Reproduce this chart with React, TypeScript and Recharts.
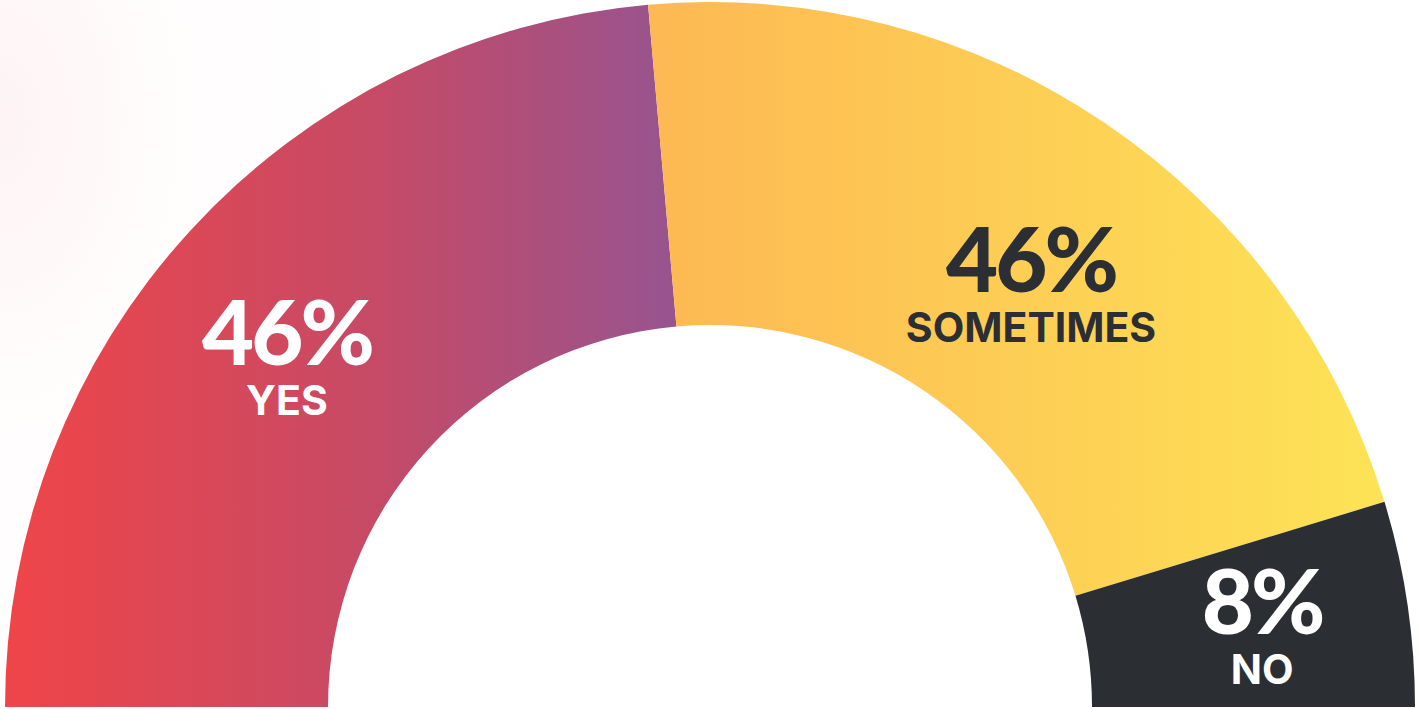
import React from "react";
import { PieChart, Pie, Cell } from "recharts";

const categories = ["YES", "SOMETIMES", "NO"];
const values = [47.2, 43.4, 9.4];
const percentLabels = ["46%", "46%", "8%"];

const fills = ["url(#gradYes)", "url(#gradSometimes)", "#2B2E33"];
const textColors = ["#FFFFFF", "#2B2E33", "#FFFFFF"];
// label placement relative to the pie centre (degrees, px)
const labelPolar = [
  { angle: 140.4, r: 549 },
  { angle: 52.8, r: 531 },
  { angle: 8.3, r: 558 },
];

const data = categories.map((name, i) => ({ name, value: values[i] }));

const W = 1419;
const H = 709;
const CX = 710;
const CY = 707;

const RAD = Math.PI / 180;

const renderLabel = (props: any) => {
  const { index, cx, cy } = props;
  const p = labelPolar[index];
  const x = cx + p.r * Math.cos(p.angle * RAD);
  const y = cy - p.r * Math.sin(p.angle * RAD);
  return (
    <g key={`lbl-${index}`}>
      <text
        x={x}
        y={y + 8}
        textAnchor="middle"
        fill={textColors[index]}
        style={{ fontFamily: "Lato, sans-serif", fontWeight: 900, fontSize: 90, letterSpacing: -3 }}
      >
        {percentLabels[index]}
      </text>
      <text
        x={x}
        y={y + 58}
        textAnchor="middle"
        fill={textColors[index]}
        style={{ fontFamily: "Inter, sans-serif", fontWeight: 700, fontSize: 41, letterSpacing: 0 }}
      >
        {categories[index]}
      </text>
    </g>
  );
};

export default function App() {
  return (
    <div
      style={{
        position: "absolute",
        left: 0,
        top: 0,
        width: W,
        height: H,
        overflow: "hidden",
        background:
          "radial-gradient(ellipse 380px 600px at 0px 120px, rgba(253,240,242,0.8) 0%, rgba(255,250,250,0.5) 45%, rgba(255,255,255,0) 100%), #ffffff",
      }}
    >
      <style>{`body{margin:0;}`}</style>
      <svg width={0} height={0} style={{ position: "absolute" }}>
        <defs>
          <linearGradient id="gradYes" x1="0" y1="0" x2="1" y2="0">
            <stop offset="0%" stopColor="#EF4548" />
            <stop offset="55%" stopColor="#C64A66" />
            <stop offset="100%" stopColor="#97548F" />
          </linearGradient>
          <linearGradient id="gradSometimes" x1="0" y1="0" x2="1" y2="0">
            <stop offset="0%" stopColor="#FDB853" />
            <stop offset="100%" stopColor="#FDE356" />
          </linearGradient>
        </defs>
      </svg>
      <PieChart width={W} height={H} margin={{ top: 0, right: 0, bottom: 0, left: 0 }}>
        <Pie
          data={data}
          dataKey="value"
          nameKey="name"
          cx={CX}
          cy={CY}
          startAngle={180}
          endAngle={0}
          innerRadius={382}
          outerRadius={705}
          stroke="none"
          paddingAngle={0}
          isAnimationActive={false}
          label={renderLabel}
          labelLine={false}
        >
          {data.map((d, i) => (
            <Cell key={d.name} fill={fills[i]} stroke="none" />
          ))}
        </Pie>
      </PieChart>
    </div>
  );
}
